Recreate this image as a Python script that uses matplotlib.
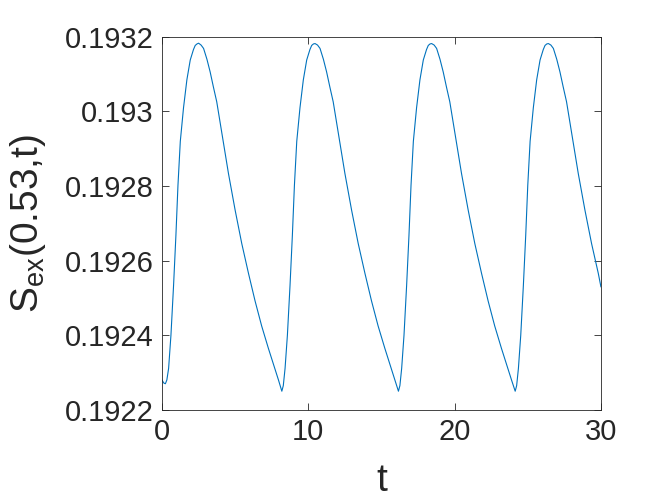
import numpy as np
import matplotlib
matplotlib.use("Agg")
import matplotlib.pyplot as plt
from matplotlib.ticker import FuncFormatter

plt.rcParams['font.family'] = ['Liberation Sans', 'DejaVu Sans']
plt.rcParams['mathtext.default'] = 'regular'

# values, cycle by cycle
t_vals = [0.00, 0.12, 0.23,
          0.33, 0.45, 0.61, 0.79, 0.95, 1.09, 1.25, 1.36, 1.47, 1.59, 1.70, 1.93, 2.15, 2.27, 2.39, 2.50, 2.67, 2.84,
          3.07, 3.29, 3.51, 3.74, 4.15, 4.54, 5.00, 5.45, 5.91, 6.36, 6.81, 7.27, 7.73, 7.96, 8.19,
          8.29, 8.41, 8.57, 8.75, 8.91, 9.05, 9.21, 9.32, 9.43, 9.55, 9.66, 9.89, 10.11, 10.23, 10.35, 10.46, 10.63, 10.80,
          11.03, 11.25, 11.47, 11.70, 12.11, 12.50, 12.96, 13.41, 13.87, 14.32, 14.77, 15.23, 15.69, 15.92, 16.16,
          16.26, 16.38, 16.54, 16.72, 16.88, 17.02, 17.18, 17.29, 17.40, 17.52, 17.63, 17.86, 18.08, 18.20, 18.32, 18.43, 18.60, 18.77,
          19.00, 19.22, 19.44, 19.67, 20.08, 20.47, 20.93, 21.38, 21.84, 22.29, 22.74, 23.20, 23.66, 23.89, 24.14,
          24.24, 24.36, 24.52, 24.70, 24.86, 25.00, 25.16, 25.27, 25.38, 25.50, 25.61, 25.84, 26.06, 26.18, 26.30, 26.41, 26.58, 26.75,
          26.98, 27.20, 27.42, 27.65, 28.06, 28.45, 28.91, 29.36, 29.82, 30.00]
s_vals = [0.192280, 0.192272, 0.192270,
          0.192280, 0.192311, 0.192400, 0.192534, 0.192668, 0.192802, 0.192920, 0.192965, 0.193010, 0.193050, 0.193085, 0.193138, 0.193166, 0.193177, 0.193181, 0.193183, 0.193178, 0.193169,
          0.193140, 0.193106, 0.193066, 0.193026, 0.192928, 0.192834, 0.192735, 0.192646, 0.192566, 0.192492, 0.192425, 0.192365, 0.192308, 0.192280, 0.192250,
          0.192265, 0.192311, 0.192400, 0.192534, 0.192668, 0.192802, 0.192920, 0.192965, 0.193010, 0.193050, 0.193085, 0.193138, 0.193166, 0.193177, 0.193181, 0.193182, 0.193178, 0.193169,
          0.193140, 0.193106, 0.193066, 0.193026, 0.192928, 0.192834, 0.192735, 0.192646, 0.192566, 0.192492, 0.192425, 0.192365, 0.192308, 0.192280, 0.192250,
          0.192265, 0.192311, 0.192400, 0.192534, 0.192668, 0.192802, 0.192920, 0.192965, 0.193010, 0.193050, 0.193085, 0.193138, 0.193166, 0.193177, 0.193181, 0.193182, 0.193178, 0.193169,
          0.193140, 0.193106, 0.193066, 0.193026, 0.192928, 0.192834, 0.192735, 0.192646, 0.192566, 0.192492, 0.192425, 0.192365, 0.192308, 0.192280, 0.192250,
          0.192265, 0.192311, 0.192400, 0.192534, 0.192668, 0.192802, 0.192920, 0.192965, 0.193010, 0.193050, 0.193085, 0.193138, 0.193166, 0.193177, 0.193181, 0.193182, 0.193178, 0.193169,
          0.193140, 0.193106, 0.193066, 0.193026, 0.192928, 0.192834, 0.192735, 0.192646, 0.192566, 0.192530]

x_ticks = [0, 10, 20, 30]
y_ticks = [0.1922, 0.1924, 0.1926, 0.1928, 0.1930, 0.1932]

axcol = '#262626'

fig = plt.figure(figsize=(6.64, 4.98), dpi=100)
ax = fig.add_axes([0.244, 0.177, 0.661, 0.749])
ax.plot(t_vals, s_vals, color='#0072BD', lw=0.8)

ax.set_xlim(0, 30)
ax.set_ylim(0.1922, 0.1932)
ax.set_xticks(x_ticks)
ax.set_yticks(y_ticks)
ax.yaxis.set_major_formatter(FuncFormatter(lambda v, p: '%g' % round(v, 4)))
ax.tick_params(direction='in', length=5, width=0.6, colors=axcol, labelsize=21,
               top=True, right=True, pad=6)
for sp in ax.spines.values():
    sp.set_color(axcol)
    sp.set_linewidth(0.6)

ax.set_xlabel('t', fontsize=28, color=axcol, labelpad=12)
ax.set_ylabel(r'S$_{ex}$(0.53,t)', fontsize=28, color=axcol, labelpad=12)

fig.savefig('out.png', dpi=100)
